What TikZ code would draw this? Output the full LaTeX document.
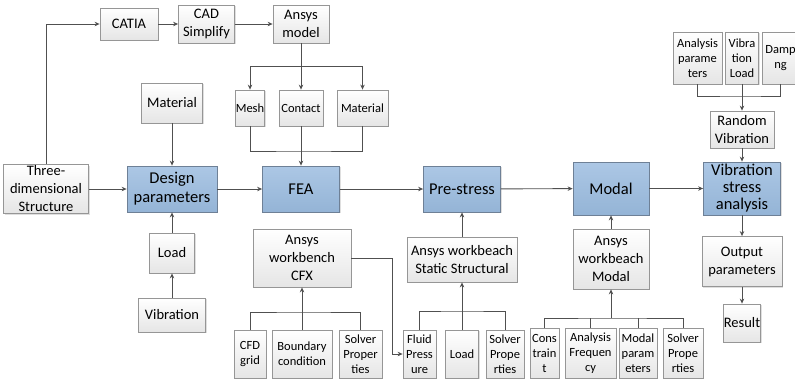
\documentclass[tikz,border=0pt]{standalone}
\usepackage{fontspec}
\setmainfont{Carlito}
\usepackage{xcolor}
\usetikzlibrary{arrows.meta,shadows}

\definecolor{lineg}{RGB}{80,80,80}
\definecolor{boxg}{RGB}{150,150,150}
\definecolor{bluef}{RGB}{148,180,214}
\definecolor{bluet}{RGB}{172,199,229}
\definecolor{blued}{RGB}{110,128,150}

\begin{document}
\begin{tikzpicture}[x=1pt,y=-1pt,
    >={Stealth[length=5pt,width=4.5pt]},
    color=lineg,line width=0.9pt,
    sz/.style 2 args={minimum width=#1pt,minimum height=#2pt},
    gbox/.style={draw=boxg,line width=0.8pt,top color=white,bottom color=gray!20,
      text=black,align=center,inner sep=0pt,font=\fontsize{14.5}{18}\selectfont,
      drop shadow={opacity=0.25,shadow xshift=1pt,shadow yshift=-1pt}},
    small/.style={gbox,font=\fontsize{12.5}{15}\selectfont},
    bbox/.style={draw=blued,line width=0.8pt,top color=bluet,bottom color=bluef,
      text=black,align=center,inner sep=0pt,font=\fontsize{16.5}{19}\selectfont,
      drop shadow={opacity=0.25,shadow xshift=1pt,shadow yshift=-1pt}}]
    \useasboundingbox (0,0) rectangle (795,378);
    % main chain
    \node[gbox,sz={85}{49}] (three) at (46,189) {Three-\\dimensional\\Structure};
    \node[bbox,sz={90}{46}] (design) at (172,189) {Design\\parameters};
    \node[bbox,sz={77}{46}] (fea) at (301,189) {FEA};
    \node[bbox,sz={77}{46}] (pre) at (462,189) {Pre-stress};
    \node[bbox,sz={76}{53}] (modal) at (611,188.5) {Modal};
    \node[bbox,sz={77}{53},font=\fontsize{16.5}{17}\selectfont] (vsa) at (742,188.5) {Vibration\\stress\\analysis};
    % model branch
    \node[gbox,sz={58}{32}] (catia) at (129,24) {CATIA};
    \node[gbox,sz={56}{38}] (cad) at (206.5,24) {CAD\\Simplify};
    \node[gbox,sz={56}{38}] (ansysm) at (301,24) {Ansys\\model};
    \node[small,sz={29}{36}] (mesh) at (250,108) {Mesh};
    \node[small,sz={44}{36}] (contact) at (301,108) {Contact};
    \node[small,sz={51}{36}] (matr) at (362.5,108) {Material};
    \coordinate (jm) at (301,66);
    \coordinate (jf) at (301,151);
    % design inputs
    \node[gbox,sz={61}{40}] (matl) at (172,103) {Material};
    \node[gbox,sz={45}{40}] (load) at (172,253) {Load};
    \node[gbox,sz={67}{34}] (vib) at (172,315) {Vibration};
    % CFX
    \node[gbox,sz={98}{58}] (cfx) at (302,258) {Ansys\\workbench\\CFX};
    \node[small,sz={32}{48}] (cfd) at (250,354) {CFD\\grid};
    \node[small,sz={60}{48}] (bc) at (302,354) {Boundary\\condition};
    \node[small,sz={43}{48}] (solva) at (360.5,354) {Solver\\Proper\\ties};
    \coordinate (jc) at (302,312);
    \coordinate (kc) at (392,354);
    % static structural
    \node[gbox,sz={110}{45}] (ss) at (462,259.5) {Ansys workbeach\\Static Structural};
    \node[small,sz={33}{48}] (fp) at (419.5,354) {Fluid\\Press\\ure};
    \node[small,sz={33}{48}] (loadb) at (462,354) {Load};
    \node[small,sz={38}{48}] (solvb) at (505,354) {Solver\\Prope\\rties};
    \coordinate (js) at (462,311);
    % modal
    \node[gbox,sz={76}{60}] (am) at (611,259) {Ansys\\workbeach\\Modal};
    \node[small,sz={29}{50}] (cons) at (544.5,353) {Cons\\train\\t};
    \node[small,sz={51}{50}] (af) at (590.5,353) {Analysis\\Frequen\\cy};
    \node[small,sz={38}{50}] (mp) at (638,353) {Modal\\param\\eters};
    \node[small,sz={40}{50}] (solvc) at (683,353) {Solver\\Prope\\rties};
    \coordinate (jmo) at (611,318);
    % random vibration
    \node[small,sz={49}{52}] (ap) at (697.5,58) {Analysis\\parame\\ters};
    \node[small,sz={33}{52}] (vl) at (742,58) {Vibra\\tion\\Load};
    \node[small,sz={37}{52}] (damp) at (780.5,58) {Damp\\ng};
    \node[gbox,sz={64}{37}] (rv) at (742,129.5) {Random\\Vibration};
    \coordinate (jv) at (742,96);
    \node[gbox,sz={80}{50}] (outp) at (742,261.5) {Output\\parameters};
    \node[gbox,sz={37}{38}] (result) at (742,323) {Result};

    \draw[->] (three) -- (design);
    \draw[->] (design) -- (fea);
    \draw[->] (fea) -- (pre);
    \draw[->] (pre) -- (modal);
    \draw[->] (modal) -- (vsa);
    \draw[->] (three.north) |- (catia.west);
    \draw[->] (catia) -- (cad);
    \draw[->] (cad) -- (ansysm);
    \draw[->] (ansysm) -- (contact);
    \draw[->] (jm) -| (mesh.north);
    \draw[->] (jm) -| (matr.north);
    \draw (mesh.south) |- (jf) -| (matr.south);
    \draw[->] (contact) -- (fea);
    \draw[->] (matl) -- (design);
    \draw[->] (vib) -- (load);
    \draw[->] (load) -- (design);
    \draw (cfd.north) |- (jc) -| (solva.north);
    \draw[->] (bc) -- (cfx);
    \draw[->] (cfx.east) -| (kc) -- (fp.west);
    \draw (fp.north) |- (js) -| (solvb.north);
    \draw[->] (loadb) -- (ss);
    \draw[->] (ss) -- (pre);
    \draw (cons.north) |- (jmo) -| (solvc.north);
    \draw (af.north) -- (af.north |- jmo);
    \draw (mp.north) -- (mp.north |- jmo);
    \draw[->] (jmo) -- (am);
    \draw[->] (am) -- (modal);
    \draw (ap.south) |- (jv) -| (damp.south);
    \draw[->] (vl) -- (rv);
    \draw[->] (rv) -- (vsa);
    \draw[->] (vsa) -- (outp);
    \draw[->] (outp) -- (result);
\end{tikzpicture}
\end{document}
